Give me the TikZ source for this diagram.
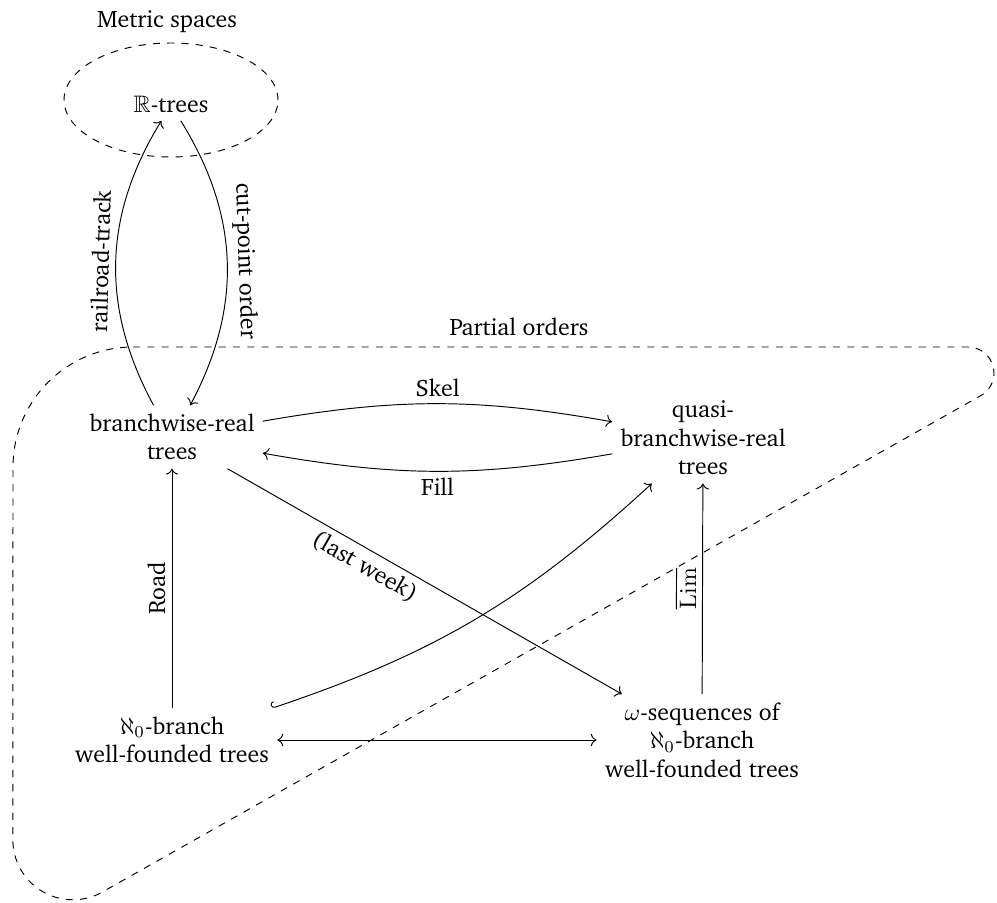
\documentclass[tikz,border=0pt]{standalone}
\usepackage[T1]{fontenc}
\usepackage{charter}
\usepackage{amssymb}
\usetikzlibrary{arrows.meta}
\begin{document}
\begin{tikzpicture}[x=0.42pt,y=0.42pt,
  obj/.style={align=center},
  lab/.style={inner sep=2.5pt},
  region/.style={dashed, line width=0.4pt}]
\useasboundingbox (0,0) rectangle (997,-902);
% regions
\draw[region] (171,-100) ellipse [x radius=44.94pt, y radius=23.94pt];
\draw[region] (133,-347) -- (968,-347)
  arc[start angle=90, end angle=-60.5, radius=10.92pt]
  -- (102.4,-892)
  arc[start angle=-60.5, end angle=-180, radius=25.2pt]
  -- (13,-467)
  arc[start angle=180, end angle=90, radius=50.4pt] -- cycle;
\node (ms) at (167,-22) {Metric spaces};
\node (po) at (519,-327) {Partial orders};
% objects
\node[obj] (R) at (171,-104) {$\mathbb{R}$-trees};
\node[obj] (bw) at (172,-437) {branchwise-real\\trees};
\node[obj] (qb) at (703,-438) {quasi-\\branchwise-real\\trees};
\node[obj] (a0) at (172,-740) {$\aleph_0$-branch\\well-founded trees};
\node[obj] (om) at (702,-740) {$\omega$-sequences of\\$\aleph_0$-branch\\well-founded trees};
% arrows
\draw[->] (bw) to[bend left=30] node[lab,sloped,above]{railroad-track} (R);
\draw[->] (R) to[bend left=30] node[lab,sloped,above]{cut-point order} (bw);
\draw[->] (bw) to[bend left=10] node[lab,above]{Skel} (qb);
\draw[->] (qb) to[bend left=10] node[lab,below]{Fill} (bw);
\draw[->] (a0) -- node[lab,sloped,above]{Road} (bw);
\draw[->] (om) -- node[lab,sloped,above]{$\overline{\mathrm{Lim}}$} (qb);
\draw[->] (bw) -- node[lab,sloped,below,pos=0.37]{(last week)} (om);
\draw[{Hooks[right,length=1.6pt,width=5.2pt]}->] (a0) to[bend right=12] (qb);
\draw[<->] (a0) -- (om);
\end{tikzpicture}
\end{document}
